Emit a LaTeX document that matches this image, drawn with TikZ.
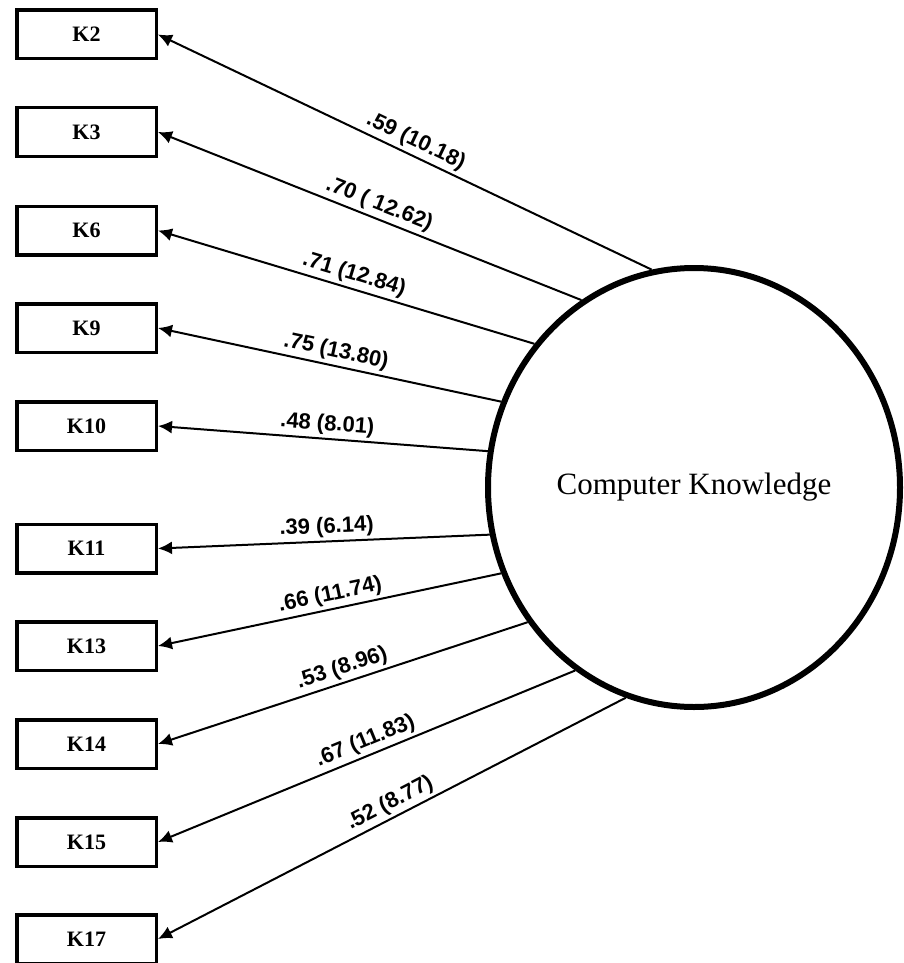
\documentclass[tikz,border=0pt]{standalone}
\usepackage{fontspec}
\setmainfont{Liberation Serif}
\newfontfamily\coeffont{Liberation Sans}
\usetikzlibrary{calc, positioning}
\usetikzlibrary{arrows.meta}
\usetikzlibrary{shapes.geometric}

\begin{document}
\begin{tikzpicture}[x=1pt,y=-1pt,
  itembox/.style={draw, line width=3.5pt, minimum width=139.5pt, minimum height=48.5pt,
    inner sep=0pt, font=\fontsize{22}{24}\selectfont\bfseries},
  loading/.style={-{Latex[length=14pt,width=13pt]}, line width=2pt},
  coef/.style={sloped, above, pos=0.49, inner sep=3pt,
    font=\coeffont\fontsize{22}{24}\selectfont\bfseries}]
\useasboundingbox (0,0) rectangle (904,963);

\node[ellipse, draw, line width=6pt, minimum width=412pt, minimum height=439pt,
  font=\fontsize{31}{36}\selectfont] (CK) at (694,487.5) {Computer Knowledge};

\foreach \item/\ypos in {2/34.5,3/132,6/230.5,9/328,10/426,11/548.5,13/646,14/744,15/842,17/939} {
  \node[itembox] (K\item) at (86.5,\ypos) {K\item};
}

\foreach \item/\ang/\value in {2/101.4/{.59 (10.18)},3/121.8/{.70 ( 12.62)},6/138.6/{.71 (12.84)},
    9/156.1/{.75 (13.80)},10/170.4/{.48 (8.01)},11/193.9/{.39 (6.14)},13/204.4/{.66 (11.74)},
    14/219.7/{.53 (8.96)},15/237.4/{.67 (11.83)},17/252/{.52 (8.77)}} {
  \draw[loading] (CK.\ang) -- node[coef] {\value} (K\item.east);
}
\end{tikzpicture}
\end{document}
